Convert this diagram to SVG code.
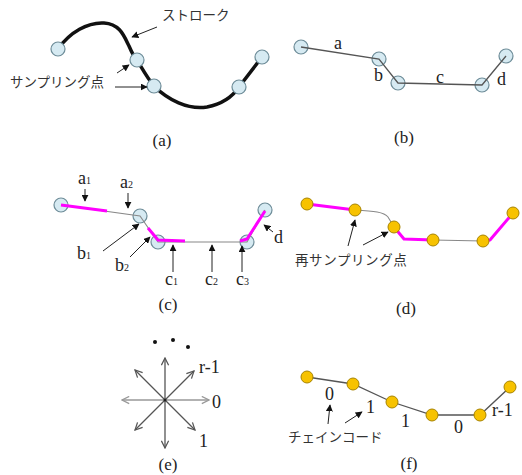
<svg xmlns="http://www.w3.org/2000/svg" width="522" height="475" viewBox="0 0 522 475">
<style>
.bg{fill:#fff}
.blue{fill:#d6eaf2;stroke:#6d8c98;stroke-width:1.2}
.org{fill:#f7c200;stroke:#a88400;stroke-width:1}
.gray{fill:none;stroke:#888;stroke-width:1.1}
.dgray{fill:none;stroke:#555;stroke-width:1.3}
.mag{fill:none;stroke:#ff00ff;stroke-width:3;stroke-linejoin:round}
.ptr{fill:none;stroke:#222;stroke-width:1;marker-end:url(#ah)}
.jp{font-family:"Noto Sans CJK JP","Noto Sans",sans-serif;font-size:13.5px;fill:#333}
.lb{font-family:'Liberation Serif','DejaVu Serif',serif;font-size:18px;fill:#222}
.cap{font-family:'Liberation Serif','DejaVu Serif',serif;font-size:17px;fill:#222;text-anchor:middle}
.dir{fill:none;stroke:#555;stroke-width:1.3;marker-end:url(#oa)}
.dirl{fill:none;stroke:#999;stroke-width:1.3;marker-end:url(#ob)}
</style>
<defs>
<marker id="ah" viewBox="0 0 10 10" refX="9" refY="5" markerWidth="7" markerHeight="7" orient="auto" markerUnits="userSpaceOnUse"><path d="M0,0 L10,5 L0,10 z" fill="#111"/></marker>
<marker id="oa" viewBox="0 0 10 10" refX="9" refY="5" markerWidth="9" markerHeight="9" orient="auto" markerUnits="userSpaceOnUse"><path d="M1,1 L9,5 L1,9" fill="none" stroke="#555" stroke-width="1.4"/></marker>
<marker id="ob" viewBox="0 0 10 10" refX="9" refY="5" markerWidth="9" markerHeight="9" orient="auto" markerUnits="userSpaceOnUse"><path d="M1,1 L9,5 L1,9" fill="none" stroke="#999" stroke-width="1.4"/></marker>
</defs>
<rect class="bg" width="522" height="475"/>

<!-- (a) -->
<g id="panel-a">
<path d="M58,49 C70,32 88,22 104,23 C120,24 124,36 129,46 C132,53 134,57 137,60 C143,70 148,79 154,86 C168,100 188,110 207,107 C222,104 233,96 239,87 L262,57" fill="none" stroke="#111" stroke-width="3.5"/>
<g id="a-n1"><circle class="blue" cx="58" cy="49" r="7"/></g>
<g id="a-n2"><circle class="blue" cx="137" cy="60" r="7"/></g>
<g id="a-n3"><circle class="blue" cx="154" cy="86" r="7"/></g>
<g id="a-n4"><circle class="blue" cx="239" cy="87" r="7"/></g>
<g id="a-n5"><circle class="blue" cx="262" cy="57" r="7"/></g>
<text class="jp" x="162" y="20">ストローク</text>
<text class="jp" x="10" y="87">サンプリング点</text>
<g id="a-connectors">
<line class="ptr" x1="157" y1="27" x2="132" y2="37"/>
<line class="ptr" x1="117" y1="73" x2="129" y2="65"/>
<line class="ptr" x1="115" y1="87" x2="147" y2="87"/>
</g>
<text class="cap" x="162" y="146">(a)</text>
</g>

<!-- (b) -->
<g id="panel-b">
<g id="b-n1"><circle class="blue" cx="301" cy="47" r="7"/></g>
<g id="b-n2"><circle class="blue" cx="379" cy="59" r="7"/></g>
<g id="b-n3"><circle class="blue" cx="398" cy="83" r="7"/></g>
<g id="b-n4"><circle class="blue" cx="482" cy="85" r="7"/></g>
<g id="b-n5"><circle class="blue" cx="506" cy="56" r="7"/></g>
<g id="b-connectors">
<polyline class="dgray" points="301,47 379,59 398,83 482,85 506,56"/>
</g>
<text class="lb" x="334" y="49">a</text>
<text class="lb" x="374" y="81">b</text>
<text class="lb" x="436" y="83">c</text>
<text class="lb" x="497" y="85">d</text>
<text class="cap" x="404" y="143">(b)</text>
</g>

<!-- (c) -->
<g id="panel-c">
<g id="c-n1"><circle class="blue" cx="61" cy="205" r="7"/></g>
<g id="c-n2"><circle class="blue" cx="140" cy="216" r="7"/></g>
<g id="c-n3"><circle class="blue" cx="158" cy="242" r="7"/></g>
<g id="c-n4"><circle class="blue" cx="247" cy="242" r="7"/></g>
<g id="c-n5"><circle class="blue" cx="265" cy="210" r="7"/></g>
<g id="c-connectors">
<polyline class="gray" points="61,205 140,216 158,242 247,242 265,210"/>
<polyline class="mag" points="61,205 107,211"/>
<polyline class="mag" points="148,228 158,240 185,241"/>
<polyline class="mag" points="240,241 247,239 265,211"/>
<line class="ptr" x1="85" y1="189" x2="85" y2="201"/>
<line class="ptr" x1="128" y1="193" x2="128" y2="208"/>
<line class="ptr" x1="103" y1="251" x2="139" y2="224"/>
<line class="ptr" x1="130" y1="257" x2="150" y2="237"/>
<line class="ptr" x1="173" y1="272" x2="173" y2="245"/>
<line class="ptr" x1="212" y1="272" x2="212" y2="245"/>
<line class="ptr" x1="242" y1="272" x2="242" y2="246"/>
<line class="ptr" x1="273" y1="232" x2="264" y2="225"/>
</g>
<text class="lb" x="78" y="184">a<tspan font-size="10">1</tspan></text>
<text class="lb" x="120" y="188">a<tspan font-size="10">2</tspan></text>
<text class="lb" x="77" y="259">b<tspan font-size="10">1</tspan></text>
<text class="lb" x="115" y="271">b<tspan font-size="10">2</tspan></text>
<text class="lb" x="165" y="285">c<tspan font-size="10">1</tspan></text>
<text class="lb" x="205" y="285">c<tspan font-size="10">2</tspan></text>
<text class="lb" x="236" y="285">c<tspan font-size="10">3</tspan></text>
<text class="lb" x="274" y="243">d</text>
<text class="cap" x="168" y="310">(c)</text>
</g>

<!-- (d) -->
<g id="panel-d">
<g id="d-connectors">
<path class="gray" d="M355,210 C374,211 384,212 388,217 L394,227"/>
<line class="gray" x1="433" y1="240" x2="483" y2="241"/>
<polyline class="mag" points="307,204 355,210"/>
<polyline class="mag" points="394,227 404,239 433,240"/>
<polyline class="mag" points="483,241 490,240 513,213"/>
<line class="ptr" x1="348" y1="246" x2="355" y2="220"/>
<line class="ptr" x1="363" y1="245" x2="388" y2="232"/>
</g>
<g id="d-n1"><circle class="org" cx="307" cy="204" r="6"/></g>
<g id="d-n2"><circle class="org" cx="355" cy="210" r="6"/></g>
<g id="d-n3"><circle class="org" cx="394" cy="227" r="6"/></g>
<g id="d-n4"><circle class="org" cx="433" cy="240" r="6"/></g>
<g id="d-n5"><circle class="org" cx="483" cy="241" r="6"/></g>
<g id="d-n6"><circle class="org" cx="513" cy="213" r="6"/></g>
<text class="jp" x="295" y="265" letter-spacing="0.6">再サンプリング点</text>
<text class="cap" x="406" y="314">(d)</text>
</g>

<!-- (e) -->
<g id="panel-e">
<g id="e-connectors">
<line class="dirl" x1="165" y1="400" x2="209" y2="400"/>
<line class="dirl" x1="165" y1="400" x2="122" y2="400"/>
<line class="dir" x1="165" y1="400" x2="165" y2="358"/>
<line class="dir" x1="165" y1="400" x2="165" y2="448"/>
<line class="dir" x1="165" y1="400" x2="135" y2="370"/>
<line class="dir" x1="165" y1="400" x2="194" y2="371"/>
<line class="dir" x1="165" y1="400" x2="135" y2="430"/>
<line class="dir" x1="165" y1="400" x2="195" y2="430"/>
</g>
<circle cx="165" cy="400" r="1.5" fill="#222"/>
<circle cx="155" cy="342" r="2" fill="#111"/>
<circle cx="173" cy="340" r="2" fill="#111"/>
<circle cx="188" cy="347" r="2" fill="#111"/>
<text class="lb" x="199" y="373">r-1</text>
<text class="lb" x="212" y="408">0</text>
<text class="lb" x="199" y="447">1</text>
<text class="cap" x="168" y="470">(e)</text>
</g>

<!-- (f) -->
<g id="panel-f">
<g id="f-connectors">
<polyline class="dgray" points="307,377 353,384 392,402 432,415 480,415 510,387"/>
<line class="ptr" x1="328" y1="424" x2="330" y2="405"/>
<line class="ptr" x1="345" y1="423" x2="362" y2="412"/>
</g>
<g id="f-n1"><circle class="org" cx="307" cy="377" r="6"/></g>
<g id="f-n2"><circle class="org" cx="353" cy="384" r="6"/></g>
<g id="f-n3"><circle class="org" cx="392" cy="402" r="6"/></g>
<g id="f-n4"><circle class="org" cx="432" cy="415" r="6"/></g>
<g id="f-n5"><circle class="org" cx="480" cy="415" r="6"/></g>
<g id="f-n6"><circle class="org" cx="510" cy="387" r="6"/></g>
<text class="lb" x="325" y="400">0</text>
<text class="lb" x="366" y="413">1</text>
<text class="lb" x="401" y="427">1</text>
<text class="lb" x="454" y="433">0</text>
<text class="lb" x="492" y="416">r-1</text>
<text class="jp" x="288" y="442">チェインコード</text>
<text class="cap" x="409" y="469">(f)</text>
</g>
</svg>
